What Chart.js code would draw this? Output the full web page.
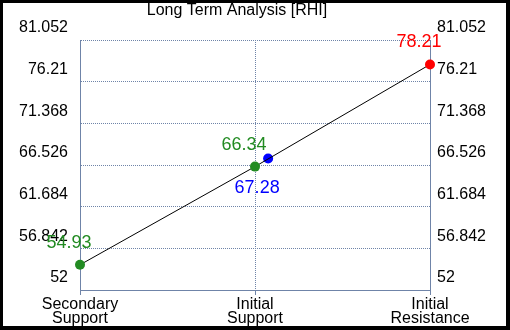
<!DOCTYPE html>
<html><head><meta charset="utf-8">
<script src="https://cdn.jsdelivr.net/npm/chart.js@4/dist/chart.umd.min.js"></script>
<style>html,body{margin:0;padding:0;background:#000;}#wrap{width:510px;height:330px;}</style>
</head><body><div id="wrap"><canvas id="c" width="510" height="330"></canvas></div>
<script>
const chartTitle = 'Long Term Analysis [RHI]';
const categories = [['Secondary', 'Support'], ['Initial', 'Support'], ['Initial', 'Resistance']];
const lineValues = [54.93, 66.34, 78.21];
const pointColors = ['#228b22', '#228b22', '#ff0000'];
const blueValue = 67.28;
const bluePosition = 1.075;
const yTicks = [52, 56.842, 61.684, 66.526, 71.368, 76.21, 81.052];
const yTickLabels = ['52', '56.842', '61.684', '66.526', '71.368', '76.21', '81.052'];

const FONT = "'Liberation Sans', Arial, sans-serif";
const GRID = '#6f84a8';

const framePlugin = {
  id: 'frame',
  beforeDraw(chart) {
    const ctx = chart.ctx;
    ctx.save();
    ctx.fillStyle = '#000';
    ctx.fillRect(0, 0, chart.width, chart.height);
    ctx.fillStyle = '#fff';
    ctx.fillRect(3, 3, chart.width - 7, chart.height - 7);
    ctx.restore();
  },
  afterDraw(chart) {
    const ctx = chart.ctx;
    ctx.save();
    ctx.fillStyle = '#000';
    ctx.font = '16px ' + FONT;
    ctx.textAlign = 'center';
    ctx.textBaseline = 'alphabetic';
    ctx.fillText(chartTitle, 237, 15);
    ctx.restore();
  }
};

const labelPlugin = {
  id: 'valueLabels',
  afterDatasetsDraw(chart) {
    const ctx = chart.ctx;
    ctx.save();
    ctx.font = '18px ' + FONT;
    ctx.textAlign = 'center';
    ctx.textBaseline = 'middle';
    chart.getDatasetMeta(0).data.forEach((el, i) => {
      ctx.fillStyle = pointColors[i];
      ctx.fillText(lineValues[i].toFixed(2), el.x - 11, el.y - 22);
    });
    const b = chart.getDatasetMeta(1).data[0];
    ctx.fillStyle = '#0000ff';
    ctx.fillText(blueValue.toFixed(2), b.x - 11, b.y + 30);
    ctx.restore();
  }
};

function yTickSetup(scale) {
  scale.ticks = yTicks.map(v => ({ value: v }));
}

new Chart(document.getElementById('c'), {
  type: 'line',
  data: {
    datasets: [
      {
        data: lineValues.map((v, i) => ({ x: i, y: v })),
        borderColor: '#000',
        borderWidth: 1,
        pointRadius: 5,
        pointHoverRadius: 5,
        pointBackgroundColor: pointColors,
        pointBorderColor: pointColors,
        pointBorderWidth: 0,
        tension: 0,
        clip: false
      },
      {
        data: [{ x: bluePosition, y: blueValue }],
        showLine: false,
        pointRadius: 5,
        pointBackgroundColor: '#0000ff',
        pointBorderColor: '#0000ff',
        pointBorderWidth: 0,
        clip: false
      }
    ]
  },
  plugins: [framePlugin, labelPlugin],
  options: {
    responsive: false,
    devicePixelRatio: 1,
    animation: false,
    events: [],
    layout: { padding: { top: 40, left: 0, right: 0, bottom: 0 } },
    plugins: { legend: { display: false }, title: { display: false }, tooltip: { enabled: false } },
    scales: {
      x: {
        type: 'linear',
        position: 'bottom',
        min: 0,
        max: 2,
        afterBuildTicks(scale) { scale.ticks = categories.map((_, i) => ({ value: i })); },
        afterFit(scale) { scale.height = 40; },
        ticks: {
          autoSkip: false,
          maxRotation: 0,
          minRotation: 0,
          padding: 2,
          color: '#000',
          font: { family: FONT, size: 16, lineHeight: 0.92 },
          callback: (v) => categories[v]
        },
        grid: { color: GRID, lineWidth: 1, borderDash: [1, 1], drawTicks: true, tickLength: 5, tickBorderDash: [], tickColor: GRID },
        border: { display: true, color: GRID, width: 1, dash: [1, 1] }
      },
      y: {
        position: 'left',
        min: 52,
        max: 81.052,
        afterBuildTicks: yTickSetup,
        afterFit(scale) { scale.width = 80; },
        ticks: {
          padding: 12,
          labelOffset: -12,
          color: '#000',
          font: { family: FONT, size: 16 },
          callback: (v, i) => yTickLabels[i]
        },
        grid: { color: GRID, lineWidth: 1, borderDash: [1, 1], drawTicks: false },
        border: { display: true, color: GRID, width: 1, dash: [1, 1] }
      },
      y2: {
        position: 'right',
        min: 52,
        max: 81.052,
        afterBuildTicks: yTickSetup,
        afterFit(scale) { scale.width = 80; },
        ticks: {
          padding: 7,
          labelOffset: -12,
          color: '#000',
          font: { family: FONT, size: 16 },
          callback: (v, i) => yTickLabels[i]
        },
        grid: { display: true, drawOnChartArea: false, drawTicks: false },
        border: { display: true, color: GRID, width: 1 }
      }
    }
  }
});
</script>
</body></html>
